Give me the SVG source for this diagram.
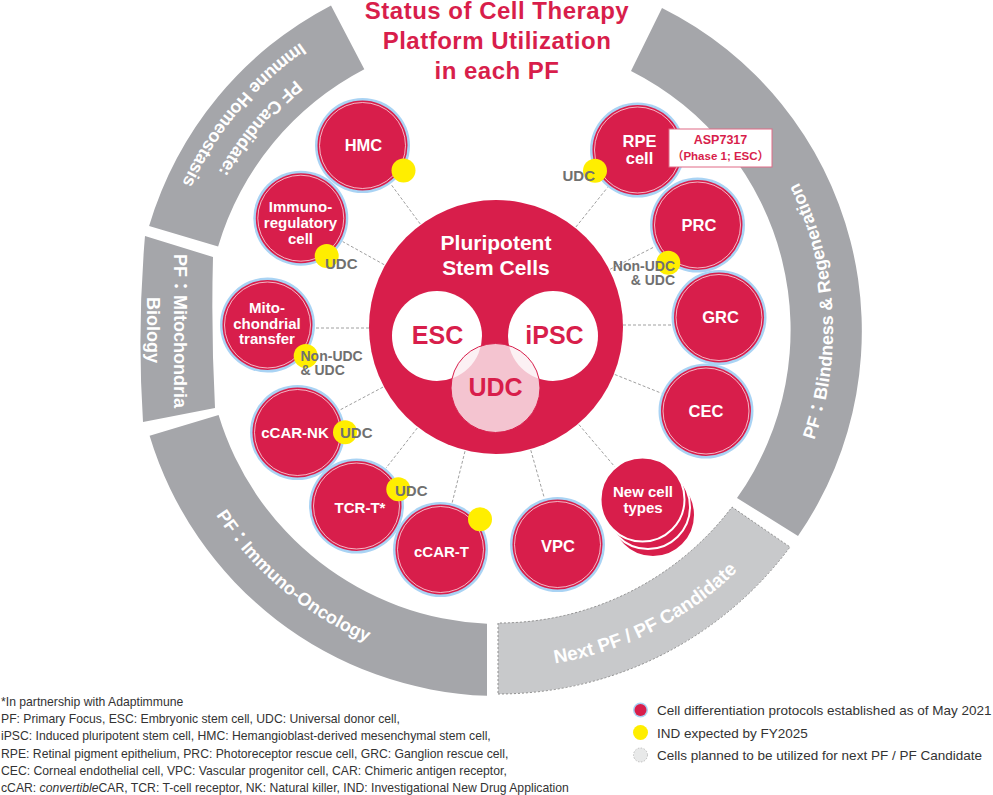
<svg xmlns="http://www.w3.org/2000/svg" width="993" height="795" viewBox="0 0 993 795">
<style>
.band{fill:#a5a6aa}
.bandl{fill:#c8c9cb;stroke:#8e8e8e;stroke-width:1;stroke-dasharray:2 2}
.bt{font-family:"Liberation Sans","Noto Sans CJK JP",sans-serif;font-weight:bold;font-size:18px;fill:#fff}
.halo{fill:#a9d3f4}
.cell{fill:#d81e4b}
.ring{fill:none;stroke:#fff;stroke-width:0.8;opacity:0.85}
.lbl{font-family:"Liberation Sans",sans-serif;font-weight:bold;font-size:15px;fill:#fff;text-anchor:middle}
.big{font-size:16.5px}
.dot{fill:#ffee00}
.gl{font-family:"Liberation Sans",sans-serif;font-weight:bold;font-size:15px;fill:#707070}
.gs{font-size:14px}
.conn{stroke:#a0a0a0;stroke-width:1;stroke-dasharray:3 2;fill:none}
.title{font-family:"Liberation Sans",sans-serif;font-weight:bold;font-size:24px;fill:#d81e4b;text-anchor:middle;letter-spacing:0.5px}
.note{font-family:"Liberation Sans",sans-serif;font-size:12.2px;fill:#333}
.leg{font-family:"Liberation Sans",sans-serif;font-size:13.5px;fill:#333}
</style>
<defs>
<path id="pTL1" d="M443.9,11.9 A323,323 0 0 0 177,330"/>
<path id="pTL2" d="M439.2,-14.7 A350,350 0 0 0 150,330"/>
<path id="pIO" d="M166.15,388.87 A339,339 0 0 0 500,669"/>
<path id="pNX" d="M423.97,659.34 A338,338 0 0 0 811.13,462.07"/>
<path id="pBR" d="M755.09,544.05 A333,333 0 0 0 727.11,86.46"/>
</defs>

<g id="title">
<text class="title" x="497" y="19">Status of Cell Therapy</text>
<text class="title" x="497" y="48.5">Platform Utilization</text>
<text class="title" x="497" y="79">in each PF</text>
</g>

<g id="band-immune-homeostasis">
<path class="band" d="M331,5.4 A366,366 0 0 0 149.1,226.1 L218.1,246.5 A294,294 0 0 1 364.3,69.2 Z"/>
<text class="bt"><textPath href="#pTL1" startOffset="50%" text-anchor="middle">PF Candidate:</textPath></text>
<text class="bt"><textPath href="#pTL2" startOffset="50%" text-anchor="middle">Immune Homeostasis</textPath></text>
</g>
<g id="band-mitochondria">
<path class="band" d="M145,236 Q137,330 143,422 L215,408 Q211,332 213,257 Z"/>
<text class="bt" transform="translate(174,331) rotate(90)" text-anchor="middle">PF：Mitochondria</text>
<text class="bt" transform="translate(147,330) rotate(90)" text-anchor="middle">Biology</text>
</g>
<g id="band-immuno-oncology">
<path class="band" d="M149.6,435.8 A366,366 0 0 0 487,695.8 L487,623.7 A294,294 0 0 1 218.6,415 Z"/>
<text class="bt"><textPath href="#pIO" startOffset="50%" text-anchor="middle">PF：Immuno-Oncology</textPath></text>
</g>
<g id="band-next-pf">
<path class="bandl" d="M498,694 A364,364 0 0 0 790,547 L732,507 A293,293 0 0 1 498,623 Z"/>
<text class="bt" style="font-size:19px"><textPath href="#pNX" startOffset="50%" text-anchor="middle">Next PF / PF Candidate</textPath></text>
</g>
<g id="band-blindness">
<path class="band" d="M798,536 A361,361 0 0 0 662,8 L631,71 A290,290 0 0 1 737,498 Z"/>
<text class="bt"><textPath href="#pBR" startOffset="50%" text-anchor="middle">PF：Blindness &amp; Regeneration</textPath></text>
</g>

<g id="connectors">
<line class="conn" x1="420.2" y1="223.9" x2="390.9" y2="184.2"/>
<line class="conn" x1="384.2" y1="264.7" x2="342.7" y2="241.6"/>
<line class="conn" x1="369" y1="328" x2="315.5" y2="328"/>
<line class="conn" x1="383" y1="387.1" x2="339.9" y2="410"/>
<line class="conn" x1="417.3" y1="428" x2="386" y2="468.1"/>
<line class="conn" x1="465" y1="451.2" x2="452.1" y2="502.9"/>
<line class="conn" x1="530.8" y1="450.2" x2="544.4" y2="498.3"/>
<line class="conn" x1="578.9" y1="424.6" x2="614.7" y2="466.7"/>
<line class="conn" x1="614.8" y1="374.5" x2="661.4" y2="393.2"/>
<line class="conn" x1="623" y1="325" x2="672" y2="325"/>
<line class="conn" x1="610.2" y1="269.2" x2="654.7" y2="246.7"/>
<line class="conn" x1="575.9" y1="227" x2="607.5" y2="187.5"/>
</g>

<g id="pluripotent-stem-cells">
<circle cx="496" cy="327" r="127" fill="#d81e4b"/>
<text class="lbl" x="496" y="250" style="font-size:21px">Pluripotent</text>
<text class="lbl" x="496" y="275" style="font-size:21px">Stem Cells</text>
<circle cx="437" cy="336" r="45" fill="#fff"/>
<circle cx="553" cy="336" r="45" fill="#fff"/>
<circle cx="495.5" cy="388" r="44.5" fill="#fbeef1" fill-opacity="0.8"/>
<circle cx="495.5" cy="388" r="44.5" fill="none" stroke="#d81e4b" stroke-width="1"/>
<text class="lbl" x="437.5" y="344" style="font-size:25px;fill:#d81e4b">ESC</text>
<text class="lbl" x="554.5" y="344" style="font-size:25px;fill:#d81e4b">iPSC</text>
<text class="lbl" x="495.5" y="396" style="font-size:25px;fill:#d81e4b">UDC</text>
</g>

<g id="node-hmc">
<circle class="halo" cx="362.5" cy="145.5" r="47.5"/><circle class="cell" cx="362.5" cy="145.5" r="45"/><circle class="ring" cx="362.5" cy="145.5" r="43"/>
<text class="lbl big" x="363.5" y="151">HMC</text>
<circle class="dot" cx="403.5" cy="170.5" r="12"/>
</g>
<g id="node-immunoregulatory">
<circle class="halo" cx="300.8" cy="218.2" r="47.5"/><circle class="cell" cx="300.8" cy="218.2" r="45"/><circle class="ring" cx="300.8" cy="218.2" r="43"/>
<text class="lbl" x="300.5" y="212">Immuno-</text>
<text class="lbl" x="300.5" y="228">regulatory</text>
<text class="lbl" x="300.5" y="244">cell</text>
<circle class="dot" cx="326.7" cy="256" r="12"/>
<text class="gl" x="325" y="269">UDC</text>
</g>
<g id="node-mitochondrial">
<circle class="halo" cx="267.5" cy="325" r="47.5"/><circle class="cell" cx="267.5" cy="325" r="45"/><circle class="ring" cx="267.5" cy="325" r="43"/>
<text class="lbl" x="267" y="313">Mito-</text>
<text class="lbl" x="267" y="328.5">chondrial</text>
<text class="lbl" x="267" y="344">transfer</text>
<circle class="dot" cx="305.7" cy="356" r="12"/>
<text class="gl gs" x="300.5" y="361">Non-UDC</text>
<text class="gl gs" x="300.5" y="375">&amp; UDC</text>
</g>
<g id="node-ccar-nk">
<circle class="halo" cx="297.5" cy="432.5" r="47.5"/><circle class="cell" cx="297.5" cy="432.5" r="45"/><circle class="ring" cx="297.5" cy="432.5" r="43"/>
<text class="lbl" x="295" y="438">cCAR-NK</text>
<circle class="dot" cx="345" cy="432.3" r="12"/>
<text class="gl" x="340" y="438">UDC</text>
</g>
<g id="node-tcr-t">
<circle class="halo" cx="356.5" cy="506" r="47.5"/><circle class="cell" cx="356.5" cy="506" r="45"/><circle class="ring" cx="356.5" cy="506" r="43"/>
<text class="lbl" x="360" y="513">TCR-T*</text>
<circle class="dot" cx="398.3" cy="489.3" r="12"/>
<text class="gl" x="395" y="496">UDC</text>
</g>
<g id="node-ccar-t">
<circle class="halo" cx="440.5" cy="549.5" r="47.5"/><circle class="cell" cx="440.5" cy="549.5" r="45"/><circle class="ring" cx="440.5" cy="549.5" r="43"/>
<text class="lbl" x="441.5" y="557">cCAR-T</text>
<circle class="dot" cx="480" cy="519.3" r="12"/>
</g>
<g id="node-vpc">
<circle class="halo" cx="557.5" cy="544.5" r="47.5"/><circle class="cell" cx="557.5" cy="544.5" r="45"/><circle class="ring" cx="557.5" cy="544.5" r="43"/>
<text class="lbl big" x="558" y="552">VPC</text>
</g>
<g id="node-new-cell-types">
<circle cx="653" cy="515" r="42" fill="#d81e4b" stroke="#fff" stroke-width="2"/>
<circle cx="648" cy="507" r="42" fill="#d81e4b" stroke="#fff" stroke-width="2"/>
<circle cx="642.5" cy="499.5" r="42" fill="#d81e4b" stroke="#fff" stroke-width="2"/>
<text class="lbl" x="643" y="497">New cell</text>
<text class="lbl" x="643" y="513">types</text>
</g>
<g id="node-cec">
<circle class="halo" cx="706" cy="411" r="47.5"/><circle class="cell" cx="706" cy="411" r="45"/><circle class="ring" cx="706" cy="411" r="43"/>
<text class="lbl big" x="706" y="417">CEC</text>
</g>
<g id="node-grc">
<circle class="halo" cx="719" cy="317.5" r="47.5"/><circle class="cell" cx="719" cy="317.5" r="45"/><circle class="ring" cx="719" cy="317.5" r="43"/>
<text class="lbl big" x="720.5" y="323">GRC</text>
</g>
<g id="node-prc">
<circle class="halo" cx="697.5" cy="225" r="47.5"/><circle class="cell" cx="697.5" cy="225" r="45"/><circle class="ring" cx="697.5" cy="225" r="43"/>
<text class="lbl big" x="699" y="231">PRC</text>
<circle class="dot" cx="668.3" cy="262.7" r="12"/>
<text class="gl gs" x="675" y="271" text-anchor="end">Non-UDC</text>
<text class="gl gs" x="675" y="285" text-anchor="end">&amp; UDC</text>
</g>
<g id="node-rpe">
<circle class="halo" cx="637.5" cy="150" r="47.5"/><circle class="cell" cx="637.5" cy="150" r="45"/><circle class="ring" cx="637.5" cy="150" r="43"/>
<text class="lbl big" x="639.5" y="147">RPE</text>
<text class="lbl big" x="639.5" y="164">cell</text>
<circle class="dot" cx="595" cy="170.7" r="12"/>
<text class="gl" x="595" y="181" text-anchor="end">UDC</text>
</g>
<g id="asp7317">
<rect x="669" y="129" width="103" height="38" fill="#fff" stroke="#e06a86" stroke-width="1"/>
<text class="lbl" x="720.5" y="144" style="font-size:12.5px;fill:#d81e4b">ASP7317</text>
<text class="lbl" x="720.5" y="160" style="font-size:11.5px;fill:#d81e4b;font-family:'Liberation Sans','Noto Sans CJK JP',sans-serif">（Phase 1; ESC）</text>
</g>

<g id="footnotes">
<text class="note" x="1" y="706">*In partnership with Adaptimmune</text>
<text class="note" x="1" y="723.2">PF: Primary Focus, ESC: Embryonic stem cell, UDC: Universal donor cell,</text>
<text class="note" x="1" y="740.4">iPSC: Induced pluripotent stem cell, HMC: Hemangioblast-derived mesenchymal stem cell,</text>
<text class="note" x="1" y="757.6">RPE: Retinal pigment epithelium, PRC: Photoreceptor rescue cell, GRC: Ganglion rescue cell,</text>
<text class="note" x="1" y="774.8">CEC: Corneal endothelial cell, VPC: Vascular progenitor cell, CAR: Chimeric antigen receptor,</text>
<text class="note" x="1" y="792">cCAR: <tspan font-style="italic">convertible</tspan>CAR, TCR: T-cell receptor, NK: Natural killer, IND: Investigational New Drug Application</text>
</g>

<g id="legend">
<circle cx="640.5" cy="710" r="7.5" fill="#a9d3f4"/><circle cx="640.5" cy="710" r="6" fill="#d81e4b"/>
<text class="leg" x="657" y="714.5">Cell differentiation protocols established as of May 2021</text>
<circle cx="640.5" cy="732.5" r="7.5" fill="#ffee00"/>
<text class="leg" x="657" y="737.5">IND expected by FY2025</text>
<circle cx="640.5" cy="755" r="7" fill="#e8e9e9" stroke="#b0b0b0" stroke-width="0.8" stroke-dasharray="1.5 1.5"/>
<text class="leg" x="657" y="760">Cells planned to be utilized for next PF / PF Candidate</text>
</g>
</svg>
